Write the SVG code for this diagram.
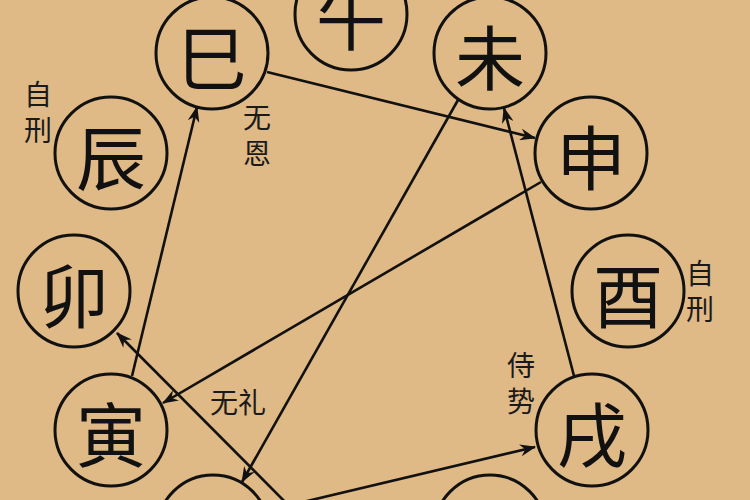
<svg xmlns="http://www.w3.org/2000/svg" width="750" height="500" viewBox="0 0 750 500">
<style>
.ring{fill:none;stroke:#111;stroke-width:3}
.ch{font-family:"Noto Sans CJK SC","Noto Sans CJK JP",sans-serif;font-size:70px;fill:#111;text-anchor:middle;dominant-baseline:central}
.lb{font-family:"Noto Sans CJK SC","Noto Sans CJK JP",sans-serif;font-size:28px;fill:#1a1a1a;text-anchor:middle;dominant-baseline:central}
.vl{font-family:"Noto Sans CJK SC","Noto Sans CJK JP",sans-serif;font-size:28px;fill:#1a1a1a;text-anchor:middle;writing-mode:vertical-rl;letter-spacing:8px}
.cn{fill:none;stroke:#111;stroke-width:2.6}
</style>
<defs>
<marker id="ah" viewBox="0 0 16 12" refX="15" refY="6" markerWidth="16" markerHeight="12" markerUnits="userSpaceOnUse" orient="auto">
<path d="M0,0 L16,6 L0,12 L5,6 z" fill="#111"/>
</marker>
</defs>
<rect width="750" height="500" fill="#dfb986"/>
<g id="connectors">
<line class="cn" x1="132" y1="376" x2="197" y2="107" marker-end="url(#ah)"/>
<line class="cn" x1="267" y1="72" x2="535" y2="138" marker-end="url(#ah)"/>
<line class="cn" x1="541" y1="182" x2="163" y2="403" marker-end="url(#ah)"/>
<line class="cn" x1="574" y1="376" x2="504" y2="108" marker-end="url(#ah)"/>
<line class="cn" x1="458" y1="100" x2="242" y2="482" marker-end="url(#ah)"/>
<line class="cn" x1="265" y1="511" x2="535" y2="447" marker-end="url(#ah)"/>
<line class="cn" x1="311" y1="528" x2="117" y2="333" marker-end="url(#ah)"/>
</g>
<g id="node-wu"><circle class="ring" cx="351" cy="14" r="56"/><text class="ch" x="351" y="14">午</text></g>
<g id="node-wei"><circle class="ring" cx="490" cy="53" r="56"/><text class="ch" x="490" y="54">未</text></g>
<g id="node-shen"><circle class="ring" cx="591" cy="153" r="56"/><text class="ch" x="591" y="154">申</text></g>
<g id="node-you"><circle class="ring" cx="628" cy="291" r="56"/><text class="ch" x="628" y="292">酉</text></g>
<g id="node-xu"><circle class="ring" cx="592" cy="430" r="56"/><text class="ch" x="592" y="431">戌</text></g>
<g id="node-hai"><circle class="ring" cx="490" cy="531" r="56"/><text class="ch" x="490" y="532">亥</text></g>
<g id="node-chou"><circle class="ring" cx="213" cy="531" r="56"/><text class="ch" x="213" y="532">丑</text></g>
<g id="node-yin"><circle class="ring" cx="111" cy="430" r="56"/><text class="ch" x="111" y="431">寅</text></g>
<g id="node-mao"><circle class="ring" cx="74" cy="291" r="56"/><text class="ch" x="74" y="292">卯</text></g>
<g id="node-chen"><circle class="ring" cx="111" cy="153" r="56"/><text class="ch" x="111" y="154">辰</text></g>
<g id="node-si"><circle class="ring" cx="212" cy="53" r="56"/><text class="ch" x="212" y="54">巳</text></g>
<g id="labels">
<text class="vl" x="38" y="116">自刑</text>
<text class="vl" x="257" y="139">无恩</text>
<text class="vl" x="700" y="295">自刑</text>
<text class="vl" x="521" y="387">侍势</text>
<text class="lb" x="238" y="401">无礼</text>
</g>
</svg>
